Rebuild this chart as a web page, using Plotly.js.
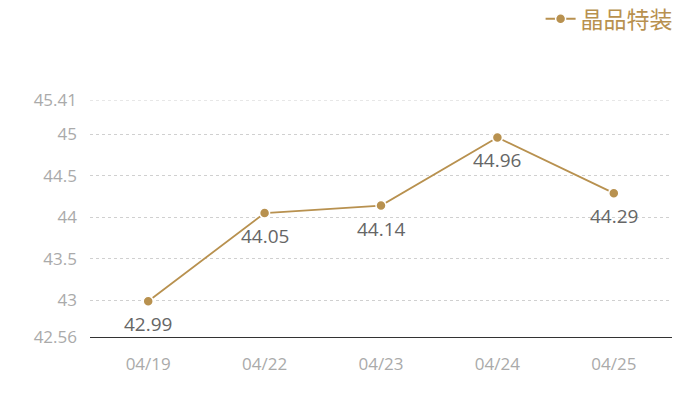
<!DOCTYPE html>
<html><head><meta charset="utf-8">
<script src="https://cdn.plot.ly/plotly-3.0.1.min.js"></script>
<style>body{margin:0;}#c{width:700px;height:400px;}</style>
</head><body><div id="c"></div>
<script>
var categories = ['04/19','04/22','04/23','04/24','04/25'];
var values = [42.99, 44.05, 44.14, 44.96, 44.29];
var seriesName = '晶品特装';
var yTicks = [42.56, 43, 43.5, 44, 44.5, 45, 45.41];
var yTickText = ['42.56','43','43.5','44','44.5','45','45.41'];
var gold = '#b8914f';
var fontFam = 'Open Sans, Noto Sans CJK SC, sans-serif';
var yMin = yTicks[0], yMax = yTicks[yTicks.length - 1];
var labels = categories.map(function(c, i){
  return {x: c, y: values[i], xref: 'x', yref: 'y', text: values[i].toFixed(2), showarrow: false,
    yshift: -23, font: {size: 19, color: '#666666', family: fontFam}};
});
Plotly.newPlot('c', [{
  x: categories, y: values, name: seriesName, type: 'scatter', mode: 'lines+markers',
  line: {color: gold, width: 1.8},
  marker: {color: gold, size: 10, line: {color: '#ffffff', width: 1.5}},
  cliponaxis: false
}], {
  width: 700, height: 400,
  margin: {l: 90, r: 28, t: 100, b: 63},
  paper_bgcolor: '#ffffff', plot_bgcolor: '#ffffff',
  showlegend: true,
  annotations: labels,
  shapes: [{type: 'line', xref: 'paper', x0: 0, x1: 1, yref: 'y', y0: yMax, y1: yMax,
    line: {color: '#d0d0d0', width: 1, dash: 'dot'}, layer: 'below'}],
  legend: {x: 0.968, xanchor: 'right', xref: 'container', y: 0.953, yanchor: 'middle', yref: 'container',
    orientation: 'h',
    font: {size: 23, color: gold, family: fontFam}, itemwidth: 30, bgcolor: 'rgba(0,0,0,0)'},
  xaxis: {type: 'category', range: [-0.5, 4.5], showgrid: false, zeroline: false,
    showline: true, linecolor: '#333333', linewidth: 1, ticks: '',
    tickfont: {size: 17, color: '#aaaaaa', family: fontFam}, ticklabelstandoff: 12},
  yaxis: {range: [yMin, yMax], tickvals: yTicks, ticktext: yTickText, zeroline: false,
    showgrid: true, gridcolor: '#d0d0d0', griddash: 'dot', gridwidth: 1,
    showline: false, ticks: '', ticklabelstandoff: 12,
    tickfont: {size: 17, color: '#aaaaaa', family: fontFam}}
}, {displayModeBar: false, staticPlot: true});
</script></body></html>
